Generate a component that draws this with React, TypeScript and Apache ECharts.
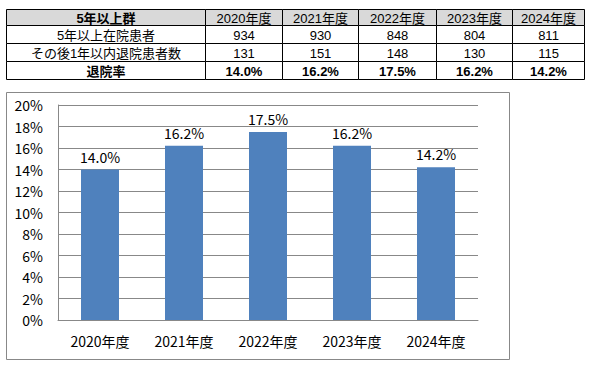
import React, { useEffect, useRef } from "react";
import * as echarts from "echarts";

const categories = ["2020年度", "2021年度", "2022年度", "2023年度", "2024年度"];
const inpatients = [934, 930, 848, 804, 811];
const discharged = [131, 151, 148, 130, 115];
const rates = [14.0, 16.2, 17.5, 16.2, 14.2];
const rowLabels = ["5年以上群", "5年以上在院患者", "その後1年以内退院患者数", "退院率"];
const yTicks = [0, 0.02, 0.04, 0.06, 0.08, 0.1, 0.12, 0.14, 0.16, 0.18, 0.2];

const FONT = "'Noto Sans CJK JP', sans-serif";
const TFONT = "'Liberation Sans', 'Noto Sans CJK JP', sans-serif";

export default function App() {
  const ref = useRef<HTMLDivElement>(null);
  useEffect(() => {
    if (!ref.current) return;
    const chart = echarts.init(ref.current, null, { renderer: "svg" });

    const colX = [6, 205, 282, 358, 436, 512, 584];
    const rowY = [9, 25, 43, 61, 79];
    const rows: string[][] = [
      [rowLabels[0], ...categories],
      [rowLabels[1], ...inpatients.map(String)],
      [rowLabels[2], ...discharged.map(String)],
      [rowLabels[3], ...rates.map((r) => r.toFixed(1) + "%")],
    ];
    const graphics: any[] = [];
    rows.forEach((row, ri) => {
      row.forEach((cell, ci) => {
        const x = colX[ci];
        const y = rowY[ri];
        const w = colX[ci + 1] - x;
        const h = rowY[ri + 1] - y;
        graphics.push({
          type: "rect",
          shape: { x: x + 0.5, y: y + 0.5, width: w, height: h },
          style: { fill: ri === 0 ? "#d9d9d9" : "#ffffff", stroke: "#000", lineWidth: 1 },
          z: 1,
        });
        const bold = (ri === 0 && ci === 0) || ri === 3;
        graphics.push({
          type: "text",
          x: x + w / 2 + 0.5,
          y: y + h / 2 + 1,
          style: {
            text: cell,
            fill: "#000",
            font: `${bold ? "bold " : ""}13px ${TFONT}`,
            lineHeight: 13,
            align: "center",
            verticalAlign: "middle",
          },
          z: 2,
        });
      });
    });
    graphics.push({
      type: "rect",
      shape: { x: 6.5, y: 92.5, width: 503, height: 267 },
      style: { fill: "none", stroke: "#888", lineWidth: 1 },
      z: 0,
    });

    chart.setOption({
      animation: false,
      backgroundColor: "#fff",
      graphic: graphics,
      grid: { left: 58, right: 120, top: 105, bottom: 45 },
      xAxis: {
        type: "category",
        data: categories,
        axisLine: { show: true, lineStyle: { color: "#888", width: 1 } },
        axisTick: { show: false },
        axisLabel: { color: "#000", fontSize: 14, fontFamily: FONT, margin: 14 },
      },
      yAxis: {
        type: "value",
        min: 0,
        max: yTicks[yTicks.length - 1],
        interval: 0.02,
        axisLine: { show: true, lineStyle: { color: "#888", width: 1 } },
        axisTick: { show: false },
        splitLine: { lineStyle: { color: "#888", width: 1 } },
        axisLabel: {
          color: "#000",
          fontSize: 14,
          fontFamily: FONT,
          margin: 15,
          formatter: (v: number) => Math.round(v * 100) + "%",
        },
      },
      series: [
        {
          type: "bar",
          data: rates.map((r) => r / 100),
          barWidth: 38,
          itemStyle: { color: "#4f81bd" },
          label: {
            show: true,
            position: "top",
            distance: 6,
            color: "#000",
            fontSize: 14,
            fontFamily: FONT,
            formatter: (p: any) => (p.value * 100).toFixed(1) + "%",
          },
        },
      ],
    });
    return () => chart.dispose();
  }, []);
  return (
    <div
      ref={ref}
      style={{ position: "absolute", left: 0, top: 0, width: 598, height: 365 }}
    />
  );
}
